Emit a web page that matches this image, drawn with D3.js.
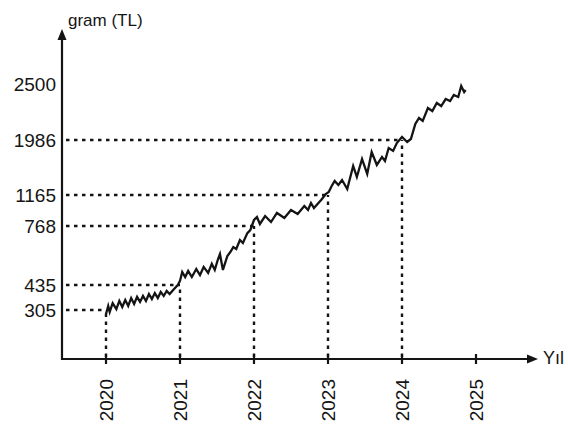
<!DOCTYPE html>
<html>
<head>
<meta charset="utf-8">
<script src="https://cdn.jsdelivr.net/npm/d3@7"></script>
<style>
  html, body { margin: 0; padding: 0; background: #fff; }
  svg { display: block; }
  text { font-family: "Liberation Sans", Arial, sans-serif; fill: #151515; }
</style>
</head>
<body>
<svg id="chart" width="568" height="428"></svg>
<script>
// ---- data ----
const yTickValues = [305, 435, 768, 1165, 1986, 2500];
const xTickYears = [2020, 2021, 2022, 2023, 2024, 2025];
const guideYears = [2020, 2021, 2022, 2023, 2024];
const guideValues = [305, 435, 768, 1165, 1986];
const yAxisTitle = "gram (TL)";
const xAxisTitle = "Yıl";

const dates = [
  2020.00, 2020.03, 2020.05, 2020.09, 2020.14, 2020.18, 2020.22, 2020.26, 2020.30, 2020.34,
  2020.38, 2020.42, 2020.46, 2020.50, 2020.54, 2020.58, 2020.62, 2020.66, 2020.70, 2020.74,
  2020.78, 2020.82, 2020.86, 2020.92, 2020.97, 2021.00, 2021.03, 2021.07, 2021.11, 2021.16,
  2021.22, 2021.27, 2021.32, 2021.38, 2021.43, 2021.47, 2021.51, 2021.54, 2021.58, 2021.64,
  2021.68, 2021.72, 2021.76, 2021.81, 2021.85, 2021.91, 2021.95, 2022.00, 2022.04, 2022.08,
  2022.15, 2022.23, 2022.31, 2022.41, 2022.50, 2022.59, 2022.68, 2022.73, 2022.77, 2022.81,
  2022.91, 2022.97, 2023.01, 2023.05, 2023.09, 2023.14, 2023.19, 2023.26, 2023.34, 2023.39,
  2023.46, 2023.53, 2023.59, 2023.66, 2023.73, 2023.77, 2023.82, 2023.88, 2023.93, 2024.00,
  2024.07, 2024.12, 2024.18, 2024.23, 2024.28, 2024.35, 2024.41, 2024.47, 2024.53, 2024.59,
  2024.65, 2024.70, 2024.76, 2024.80, 2024.84, 2024.86
];
const prices = [
  280, 326, 293, 341, 310, 352, 321, 357, 326, 367,
  336, 373, 347, 378, 352, 388, 362, 393, 367, 399,
  378, 404, 388, 414, 435, 458, 508, 480, 514, 480,
  525, 491, 537, 503, 554, 520, 576, 610, 520, 599,
  621, 649, 638, 689, 672, 728, 745, 845, 883, 794,
  896, 819, 935, 870, 973, 922, 1024, 973, 1063, 999,
  1104, 1180, 1210, 1299, 1374, 1314, 1389, 1255, 1598, 1434,
  1702, 1479, 1807, 1613, 1733, 1673, 1867, 1823, 1941, 2014,
  1956, 1995, 2133, 2188, 2161, 2280, 2252, 2326, 2298, 2362,
  2344, 2399, 2381, 2482, 2427, 2445
];

// ---- layout ----
const svg = d3.select("#chart");
const x = d3.scaleLinear().domain([2020, 2025]).range([106, 476]);
// the printed value axis is not proportional: piecewise scale through the labelled values
const y = d3.scaleLinear()
  .domain([0, 305, 435, 768, 1165, 1986, 2500])
  .range([359, 310, 285, 226, 195, 140, 84]);

const axisX0 = 62, axisY0 = 359;
const ink = "#141414";

// guide lines
const dash = "3.5,4.5";
const g = svg.append("g");
guideYears.forEach((yr, i) => {
  const v = guideValues[i];
  g.append("line")
    .attr("x1", axisX0 + 4).attr("x2", x(yr))
    .attr("y1", y(v)).attr("y2", y(v))
    .attr("stroke", ink).attr("stroke-width", 2.4)
    .attr("stroke-dasharray", dash);
  g.append("line")
    .attr("x1", x(yr)).attr("x2", x(yr))
    .attr("y1", axisY0 - 2).attr("y2", y(v))
    .attr("stroke", ink).attr("stroke-width", 2.4)
    .attr("stroke-dasharray", dash);
});

// axes
svg.append("line").attr("x1", axisX0).attr("x2", axisX0)
  .attr("y1", axisY0 + 1).attr("y2", 38)
  .attr("stroke", ink).attr("stroke-width", 2.2);
svg.append("path").attr("d", `M${axisX0},29 L${axisX0 - 4.5},40 L${axisX0 + 4.5},40 Z`).attr("fill", ink);

svg.append("line").attr("x1", axisX0 - 1).attr("x2", 530)
  .attr("y1", axisY0).attr("y2", axisY0)
  .attr("stroke", ink).attr("stroke-width", 2.2);
svg.append("path").attr("d", `M538,${axisY0} L527,${axisY0 - 4.5} L527,${axisY0 + 4.5} Z`).attr("fill", ink);

// x ticks
xTickYears.forEach(yr => {
  svg.append("line").attr("x1", x(yr)).attr("x2", x(yr))
    .attr("y1", axisY0 - 5).attr("y2", axisY0 + 5)
    .attr("stroke", ink).attr("stroke-width", 2.2);
  svg.append("text")
    .attr("transform", `translate(${x(yr)},${axisY0 + 20}) rotate(-90)`)
    .attr("text-anchor", "end")
    .attr("dy", "0.36em")
    .attr("font-size", 19)
    .text(yr);
});

// y labels
yTickValues.forEach(v => {
  svg.append("text")
    .attr("x", 56).attr("y", y(v))
    .attr("dy", "0.36em")
    .attr("text-anchor", "end")
    .attr("font-size", 19)
    .text(v);
});

// titles
svg.append("text").attr("x", 68).attr("y", 26).attr("font-size", 17).text(yAxisTitle);
svg.append("text").attr("x", 543).attr("y", 364).attr("font-size", 18).text(xAxisTitle);

// price line
const data = dates.map((d, i) => ({ t: d, v: prices[i] }));
svg.append("path")
  .datum(data)
  .attr("fill", "none")
  .attr("stroke", ink)
  .attr("stroke-width", 2.3)
  .attr("stroke-linejoin", "miter")
  .attr("d", d3.line().x(d => x(d.t)).y(d => y(d.v)));
</script>
</body>
</html>
